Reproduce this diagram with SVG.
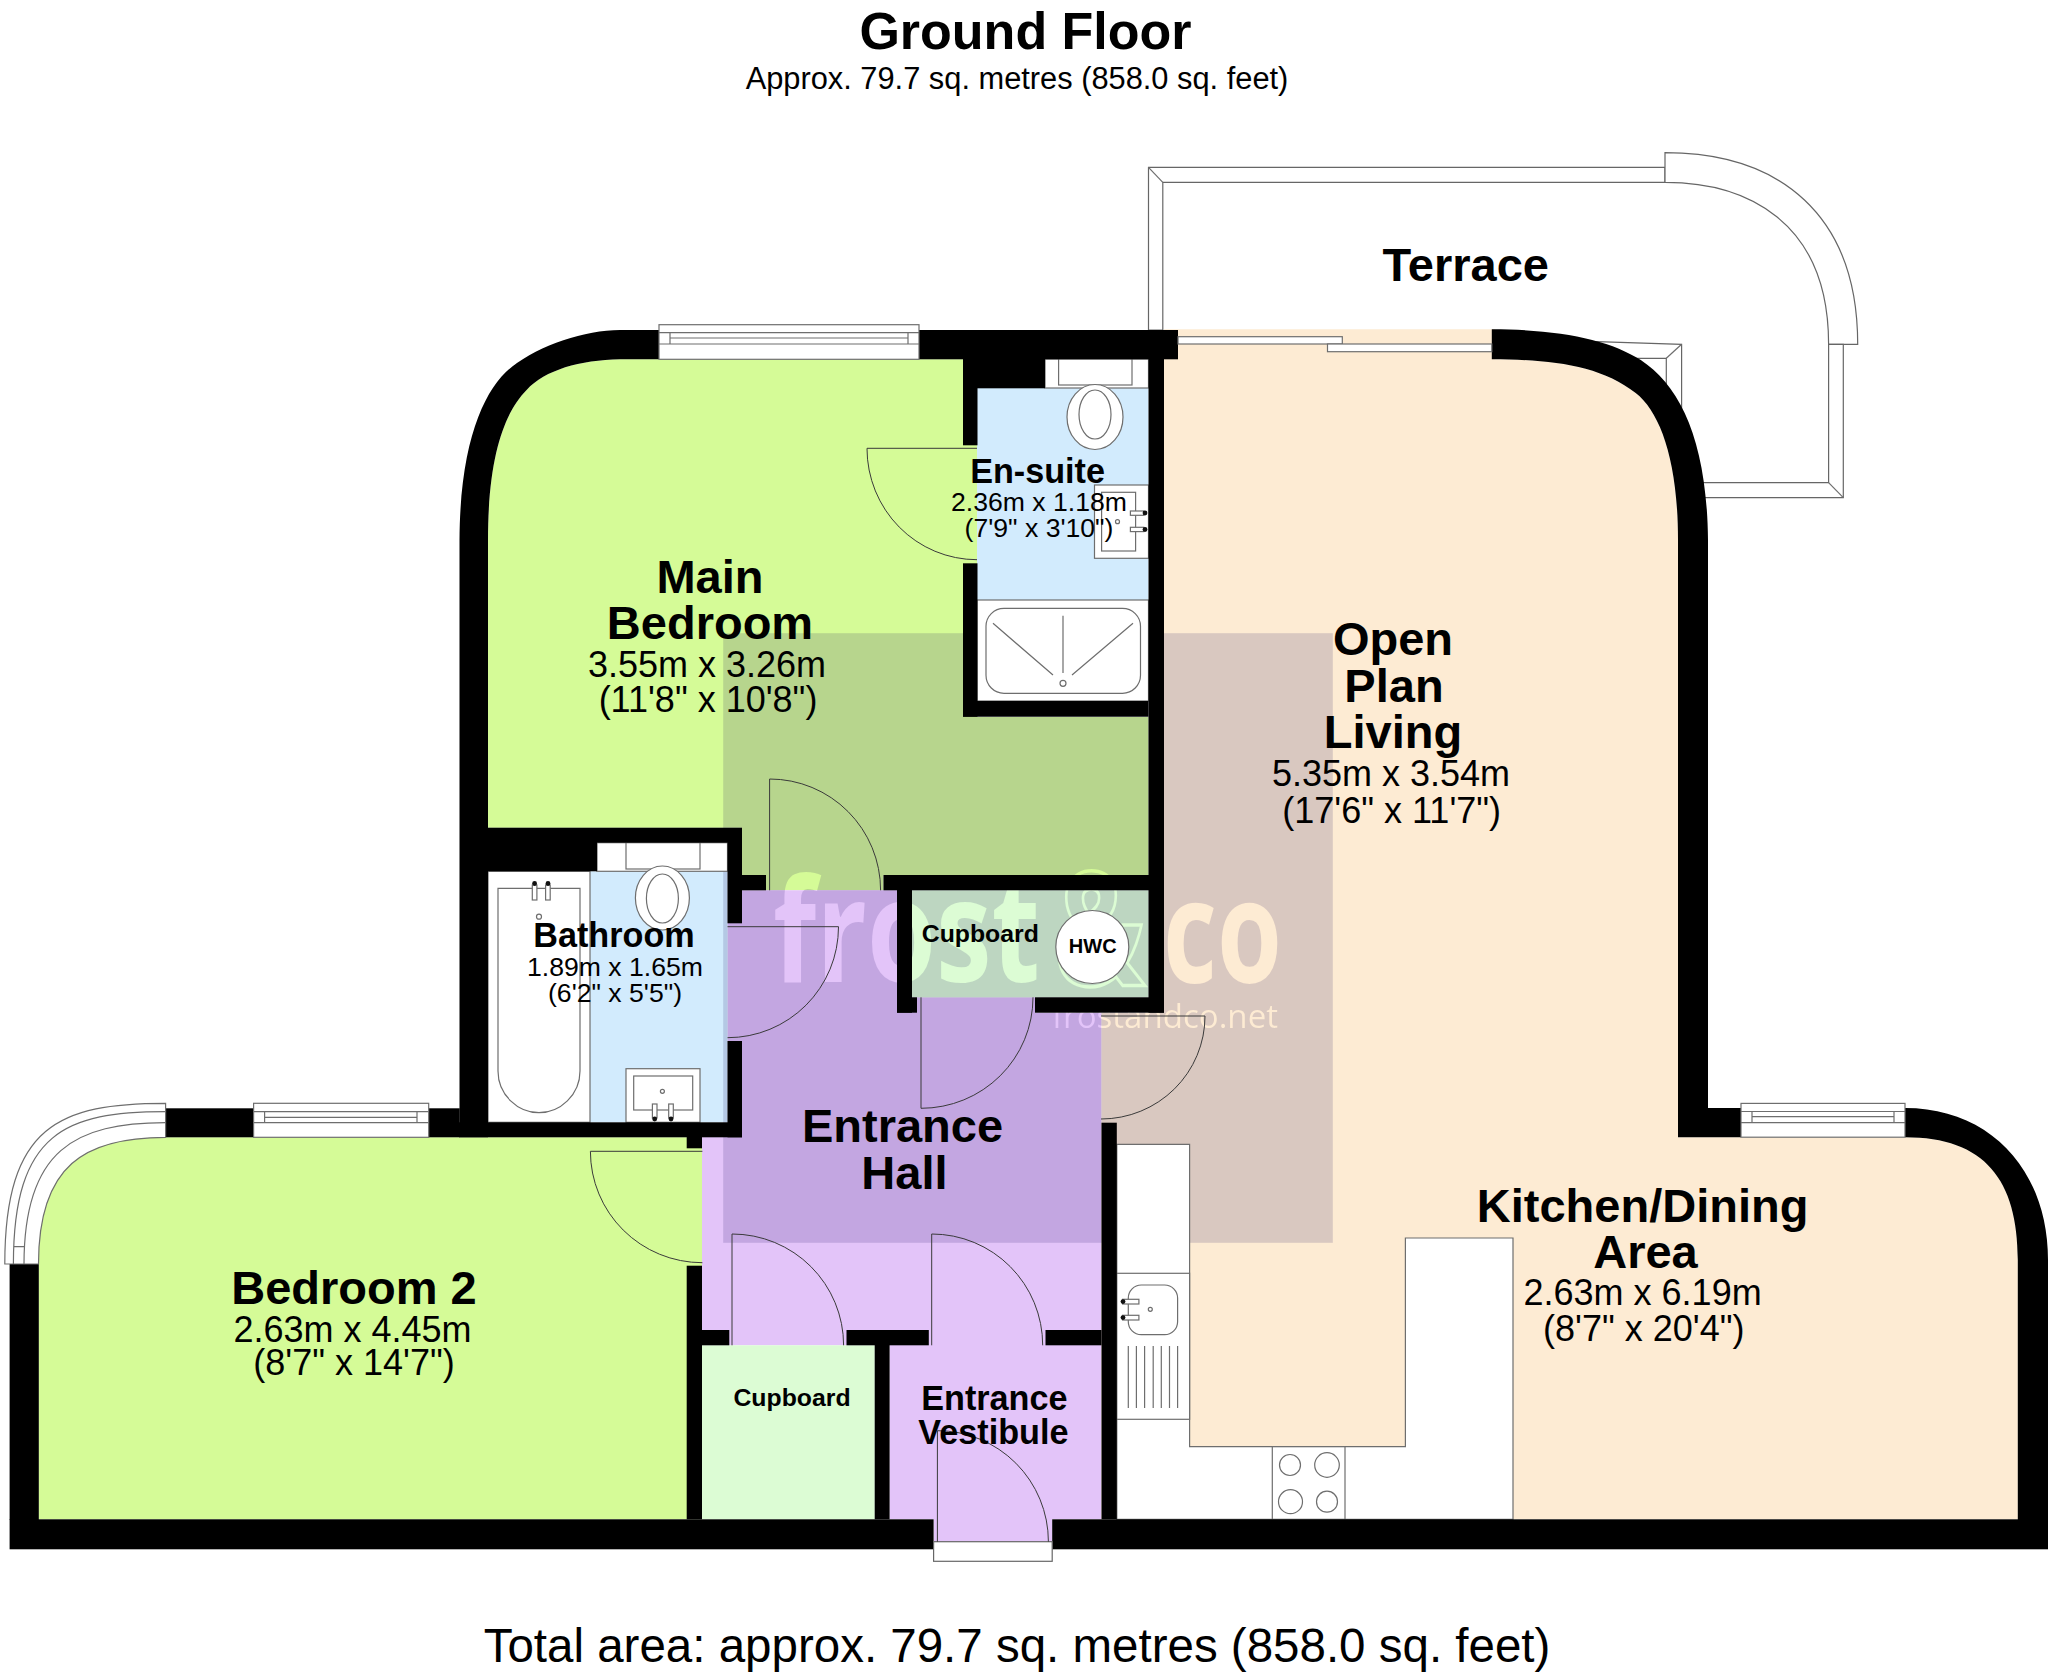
<svg xmlns="http://www.w3.org/2000/svg" width="2048" height="1678" viewBox="0 0 2048 1678">
<style>
text{font-family:"Liberation Sans",Arial,sans-serif;fill:#000;text-anchor:middle}
.h46{font-size:47px;font-weight:700}
.h34{font-size:34.2px;font-weight:700}
.h24{font-size:24.8px;font-weight:700}
.d36{font-size:36px}
.d27{font-size:26.6px}
.w{fill:#000;stroke:none}
.fx{fill:#fff;stroke:#6e6e6e;stroke-width:1.2}
.ln{fill:none;stroke:#6e6e6e;stroke-width:1.2}
.dr{fill:none;stroke:#3a3a3a;stroke-width:1}
.t{fill:#fff;stroke:#666;stroke-width:1.2}
.dot{fill:#111}
.wm{font-family:"Open Sans",sans-serif;font-size:120px;font-weight:700;text-anchor:start;fill:#000}
</style>
<defs>
<mask id="wm" maskUnits="userSpaceOnUse" x="0" y="0" width="2048" height="1678">
<rect x="0" y="0" width="2048" height="1678" fill="#fff"/>
<text class="wm" transform="translate(773,982) scale(1,1.2)" textLength="267" lengthAdjust="spacingAndGlyphs">frost</text>
<text class="wm" transform="translate(1054,985) scale(1,1.32)" textLength="91" lengthAdjust="spacingAndGlyphs" style="fill:#fff;stroke:#000;stroke-width:2.6">&amp;</text>
<text class="wm" transform="translate(1163,983) scale(1,1.2)" textLength="119" lengthAdjust="spacingAndGlyphs">co</text>
<text x="1052" y="1028" textLength="226" lengthAdjust="spacingAndGlyphs" style="font-family:'Open Sans',sans-serif;font-size:33px;text-anchor:start;fill:#000">frostandco.net</text>
</mask>
</defs>

<g id="titles">
<text x="1025.5" y="49" style="font-size:52px;font-weight:700">Ground Floor</text>
<text x="1017" y="88.5" style="font-size:30.8px">Approx. 79.7 sq. metres (858.0 sq. feet)</text>
<text x="1017" y="1661.7" style="font-size:47.5px">Total area: approx. 79.7 sq. metres (858.0 sq. feet)</text>
</g>

<g id="terrace-structure">
<path class="t" d="M1148.5,330V167.3H1665V182.3H1162.8V330Z"/>
<path class="ln" d="M1148.5,167.3L1162.8,182.3"/>
<path class="t" d="M1665,152.7C1780,152.7 1857.7,215 1857.7,344.3H1828.6C1828.6,220 1745,182.3 1665,182.3Z"/>
<path class="t" d="M1828.6,344.3H1843.3V497.7H1700V482.7H1828.6Z"/>
<path class="ln" d="M1828.6,482.7L1843.3,497.7"/>
<path class="t" d="M1597,341.7L1681.6,344.3V420H1666.3V358.3H1620Z"/>
<path class="ln" d="M1681.6,344.3L1666.3,358.3"/>
</g>

<g id="floors">
<path id="floor-main-bedroom" fill="#d5fb97" d="M620,359.3H977V717H1148.5V875H883.5V890.3H742V827.7H488V540C488,455 505,412 526.6,390C545,370 580,360 620,359.3Z"/>
<path id="floor-bedroom-2" fill="#d5fb97" d="M165.6,1137.3H702V1519.3H38.5V1264C38.5,1165 85,1137.3 165.6,1137.3Z"/>
<path id="floor-hall" fill="#e3c4f9" d="M742,890.3H912V997.3H1035V1012.7H1101.5V1519.3H1052.2V1541.7H933.6V1519.3H889.6V1345.3H702V1137H742V1041H727.5V923H742Z"/>
<rect id="floor-cupboard-lower" x="702" y="1345.3" width="172.7" height="174" fill="#dcfcd4"/>
<rect id="floor-cupboard-upper" x="912" y="890.3" width="236.5" height="107" fill="#dcfcd4"/>
<path id="floor-open-plan" fill="#fdebd3" d="M1164,329.3H1495V359.3C1550,359.3 1600,365 1635.7,393C1660,412 1678,460 1678,540V1137.2H1905C1985,1137.2 2017.8,1180 2017.8,1260V1519.3H1101.5V1012.7H1164Z"/>
<rect id="floor-en-suite" x="977" y="388" width="171.5" height="212" fill="#d2ebfd"/>
<rect id="floor-bathroom" x="488" y="871.3" width="239.5" height="251" fill="#d2ebfd"/>
</g>

<rect id="watermark" x="723.2" y="633.2" width="609.6" height="609.6" fill="#10005a" fill-opacity=".15" mask="url(#wm)"/>

<g id="fixtures">
<rect class="fx" x="1045" y="359" width="103.5" height="29"/>
<rect class="fx" x="1058.6" y="359" width="73.4" height="26"/>
<ellipse class="fx" cx="1095" cy="417" rx="28" ry="32.5"/>
<ellipse class="ln" cx="1095" cy="414.5" rx="16" ry="24.5"/>
<rect class="fx" x="1094.5" y="485" width="54" height="73.3"/>
<rect class="ln" x="1101.6" y="492.3" width="34" height="58.7"/>
<rect class="fx" x="1130.4" y="511" width="13.4" height="4.3"/>
<rect class="fx" x="1130.4" y="527.3" width="13.4" height="4.3"/>
<circle class="dot" cx="1145" cy="513" r="2.4"/><circle class="dot" cx="1145" cy="529.5" r="2.4"/>
<circle class="ln" cx="1117.5" cy="521.7" r="2"/>
<rect class="fx" x="977" y="600" width="171.5" height="101"/>
<rect class="ln" x="986" y="608.3" width="154.5" height="85" rx="18" ry="18"/>
<path class="ln" d="M1063,615.7V673M993,623.3L1053,675M1133,623.3L1072,675"/>
<circle class="ln" cx="1063" cy="683.3" r="3"/>

<rect class="fx" x="597" y="842.7" width="130.5" height="28.6"/>
<rect class="fx" x="626" y="842.7" width="74" height="26.3"/>
<rect class="fx" x="488" y="871.3" width="102" height="251"/>
<ellipse class="fx" cx="662.4" cy="898" rx="27" ry="32"/>
<ellipse class="ln" cx="662.4" cy="898.5" rx="16" ry="24.5"/>
<path class="fx" d="M498,888.3H580V1071C580,1095 560,1112.7 539,1112.7C518,1112.7 498,1095 498,1071Z"/>
<rect class="fx" x="532.3" y="885" width="4.6" height="15"/><rect class="fx" x="545.6" y="885" width="4.6" height="15"/>
<circle class="dot" cx="534.6" cy="883.5" r="2.4"/><circle class="dot" cx="548" cy="883.5" r="2.4"/>
<circle class="ln" cx="539" cy="916.7" r="2.5"/>
<rect class="fx" x="626" y="1068.7" width="74" height="53.6"/>
<rect class="ln" x="633.7" y="1076" width="59" height="34"/>
<circle class="ln" cx="662.4" cy="1091.3" r="2"/>
<rect class="fx" x="652.4" y="1104" width="4.6" height="14"/><rect class="fx" x="668.7" y="1104" width="4.6" height="14"/>
<circle class="dot" cx="654.7" cy="1119" r="2.4"/><circle class="dot" cx="671" cy="1119" r="2.4"/>

<circle class="fx" cx="1092.3" cy="947" r="36.5" stroke="#333"/>

<path class="fx" d="M1116.8,1144.3H1189.6V1446.7H1405.4V1238H1513V1519.3H1116.8Z"/>
<rect class="fx" x="1116.8" y="1273.3" width="72.8" height="146"/>
<rect class="ln" x="1128.3" y="1285" width="49.3" height="49.7" rx="13" ry="13"/>
<rect class="fx" x="1122.6" y="1299.3" width="16.3" height="4.7"/><rect class="fx" x="1122.6" y="1315.3" width="16.3" height="4.7"/>
<circle class="dot" cx="1123" cy="1301.6" r="2.4"/><circle class="dot" cx="1123" cy="1317.6" r="2.4"/>
<circle class="ln" cx="1150.3" cy="1309.3" r="2"/>
<path class="ln" d="M1128.3,1346V1408M1136.4,1346V1408M1144.6,1346V1408M1153.2,1346V1408M1161.3,1346V1408M1169.5,1346V1408M1177.6,1346V1408"/>
<rect class="fx" x="1272.3" y="1446.7" width="72.7" height="72.6"/>
<circle class="ln" cx="1290" cy="1465" r="10.5"/><circle class="ln" cx="1327" cy="1465" r="12.3"/>
<circle class="ln" cx="1290.5" cy="1501.7" r="12"/><circle class="ln" cx="1327" cy="1501.7" r="10.5"/>
</g>

<g id="walls" class="w">
<path d="M659,330H620C585,330 540,345 512,366.7C485,388 460,440 459.5,540V1137.3H488V540C488,455 505,412 526.6,390C545,370 580,360 620,359.3H659Z"/>
<rect x="919" y="330" width="259" height="29.3"/>
<rect x="963" y="359" width="14.5" height="86.3"/><rect x="963" y="359" width="82" height="29.3"/>
<rect x="963" y="563.3" width="14.5" height="153.4"/>
<rect x="963" y="701" width="185.5" height="15.7"/>
<rect x="1148.5" y="359" width="15.5" height="653.7"/>
<rect x="488" y="827.7" width="254" height="15"/><rect x="488" y="842" width="109" height="29.3"/>
<rect x="727.5" y="842" width="14.5" height="81.3"/><rect x="727.5" y="1041" width="14.5" height="96.3"/>
<rect x="459" y="1122.3" width="283" height="15"/>
<rect x="742" y="875" width="24" height="15.3"/>
<rect x="883.5" y="875" width="280.5" height="15.3"/>
<rect x="897" y="890" width="15" height="122.7"/><rect x="897" y="997.3" width="20" height="15.4"/>
<rect x="1035" y="997.3" width="129" height="15.4"/>
<rect x="1101.5" y="1122.7" width="15.3" height="396.6"/>
<rect x="165.6" y="1108.3" width="88" height="29"/><rect x="428.7" y="1108.3" width="31" height="29"/>
<rect x="686.7" y="1137" width="15.3" height="11.3"/><rect x="686.7" y="1265.7" width="15.3" height="253.6"/>
<rect x="702" y="1330" width="27.3" height="15.3"/><rect x="846.5" y="1330" width="82.3" height="15.3"/><rect x="1045.5" y="1330" width="56" height="15.3"/>
<rect x="874.7" y="1345" width="14.9" height="174.3"/>
<rect x="9.6" y="1519.3" width="924" height="30"/><rect x="1052.2" y="1519.3" width="996" height="30"/>
<rect x="9.6" y="1264" width="29.2" height="256"/>
<path d="M1491.8,329.3C1560,329.3 1610,340 1640.8,360C1680,386 1707,440 1708,540V1108H1741V1137.2H1678V540C1678,460 1660,412 1635.7,393C1600,365 1550,359.3 1491.8,359.3Z"/>
<path d="M1905,1108C1990,1108 2048,1170 2048,1260V1520H2017.8V1260C2017.8,1180 1985,1137.2 1905,1137.2Z"/>
</g>

<g id="openings">
<g id="window-main"><rect class="fx" x="659" y="324.7" width="260" height="34.6"/><path class="ln" d="M659,332.7H919M659,344H919M670,332.7V344M908,332.7V344M670,338H908"/></g>
<g id="window-bed2"><rect class="fx" x="253.6" y="1103.3" width="175.1" height="34"/><path class="ln" d="M253.6,1111.7H428.7M253.6,1122.7H428.7M264.6,1111.7V1122.7M417,1111.7V1122.7M264.6,1117.3H417"/></g>
<g id="window-kitchen"><rect class="fx" x="1741" y="1103.4" width="164" height="33.8"/><path class="ln" d="M1741,1111.5H1905M1741,1122.7H1905M1752,1111.5V1122.7M1894,1111.5V1122.7M1752,1116.6H1894"/></g>
<g id="window-curved">
<path class="fx" d="M165.6,1103.3C60,1103.3 4.8,1125 4.8,1264H38.5C38.5,1165 85,1137.3 165.6,1137.3Z"/>
<path class="ln" d="M165.6,1111.7C66,1111.7 13.4,1132 13.4,1264M165.6,1122.7C75,1122.7 24,1150 24,1264M13.4,1246.7H24"/>
</g>
<rect class="fx" x="1178" y="336.7" width="164.3" height="7.3"/>
<rect class="fx" x="1327.5" y="344" width="164.3" height="7.7"/>
<rect class="t" x="933.6" y="1541.7" width="118.6" height="19.6"/>
</g>

<g id="doors">
<path class="dr" d="M977,448.3H867A110,111.4 0 0 0 977,559.7"/>
<path class="dr" d="M769.6,890.3V779A111,111.3 0 0 1 880.6,890.3"/>
<path class="dr" d="M727.5,926.7H838.5A111,111 0 0 1 727.5,1037.7"/>
<path class="dr" d="M921,997.3V1108.3A112,111 0 0 0 1033,997.3"/>
<path class="dr" d="M1101,1016H1205A104,103 0 0 1 1101,1119"/>
<path class="dr" d="M702.4,1151.3H590.4A112,111.4 0 0 0 702.4,1262.7"/>
<path class="dr" d="M732,1345.3V1234A111.6,111.3 0 0 1 843.6,1345.3"/>
<path class="dr" d="M931.7,1345.3V1234A111,111.3 0 0 1 1042.7,1345.3"/>
<path class="dr" d="M937.4,1541.7V1430.7A111,111 0 0 1 1048.4,1541.7"/>
</g>

<g id="labels">
<g id="label-terrace"><text class="h46" x="1465.8" y="280.7">Terrace</text></g>
<g id="label-main-bedroom"><text class="h46" x="710" y="593">Main</text><text class="h46" x="710" y="639.3">Bedroom</text><text class="d36" x="707" y="677.3">3.55m x 3.26m</text><text class="d36" x="708" y="711.7">(11'8" x 10'8")</text></g>
<g id="label-en-suite"><text class="h34" x="1037.6" y="482.7">En-suite</text><text class="d27" x="1039" y="510.7">2.36m x 1.18m</text><text class="d27" x="1039" y="536.7">(7'9" x 3'10")</text></g>
<g id="label-open-plan"><text class="h46" x="1393" y="655">Open</text><text class="h46" x="1394" y="701.7">Plan</text><text class="h46" x="1393" y="748.3">Living</text><text class="d36" x="1391" y="786">5.35m x 3.54m</text><text class="d36" x="1391.7" y="822.7">(17'6" x 11'7")</text></g>
<g id="label-bathroom"><text class="h34" x="614" y="947.3">Bathroom</text><text class="d27" x="615" y="975.7">1.89m x 1.65m</text><text class="d27" x="615" y="1001.7">(6'2" x 5'5")</text></g>
<g id="label-cupboard-upper"><text class="h24" x="980.3" y="942.3">Cupboard</text><text x="1092.7" y="953.3" style="font-size:20px;font-weight:700">HWC</text></g>
<g id="label-hall"><text class="h46" x="902.5" y="1142.3">Entrance</text><text class="h46" x="904.4" y="1189.3">Hall</text></g>
<g id="label-kitchen"><text class="h46" x="1642.6" y="1222.4">Kitchen/Dining</text><text class="h46" x="1645.5" y="1268">Area</text><text class="d36" x="1642.6" y="1305">2.63m x 6.19m</text><text class="d36" x="1643.8" y="1340.7">(8'7" x 20'4")</text></g>
<g id="label-bedroom-2"><text class="h46" x="354" y="1304">Bedroom 2</text><text class="d36" x="352.5" y="1341.7">2.63m x 4.45m</text><text class="d36" x="354" y="1375">(8'7" x 14'7")</text></g>
<g id="label-cupboard-lower"><text class="h24" x="792" y="1406">Cupboard</text></g>
<g id="label-vestibule"><text class="h34" x="994.4" y="1410">Entrance</text><text class="h34" x="993.4" y="1444">Vestibule</text></g>
</g>
</svg>
